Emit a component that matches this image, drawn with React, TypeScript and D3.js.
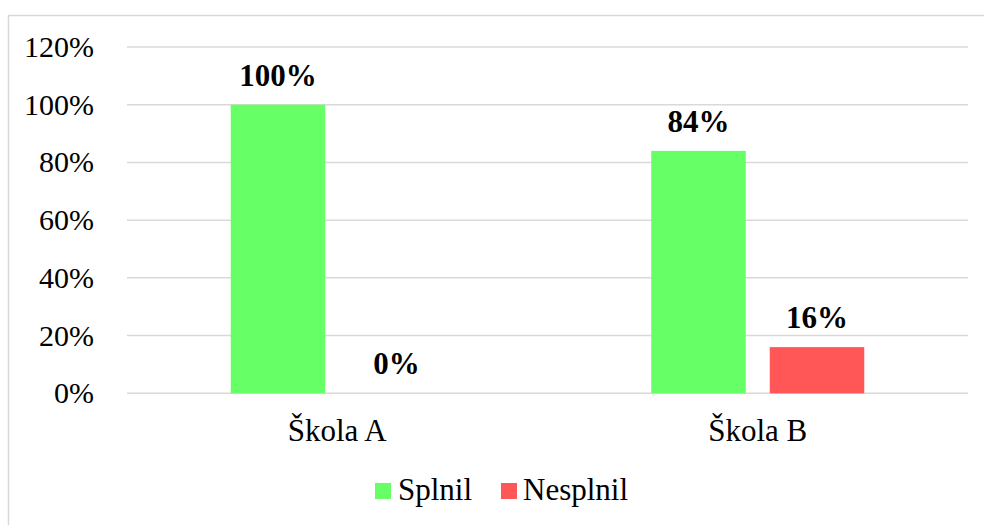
import React from "react";
import * as d3 from "d3";

const categories = ["Škola A", "Škola B"];
const seriesNames = ["Splnil", "Nesplnil"];
const splnil = [1.0, 0.84];
const nesplnil = [0.0, 0.16];
const yTicks = [0, 0.2, 0.4, 0.6, 0.8, 1.0, 1.2];
const colors = ["#66FF66", "#FF5757"];

const W = 984;
const H = 525;
const FONT = "Liberation Serif";

export default function App() {
  const x0 = d3.scaleBand<string>().domain(categories).range([127, 968]).paddingInner(0).paddingOuter(0);
  const y = d3.scaleLinear().domain([0, 1.2]).range([393.3, 47]);
  const groupW = 213;
  const x1 = d3
    .scaleBand<string>()
    .domain(seriesNames)
    .range([0, groupW])
    .paddingInner(24 / 118.5);
  const series = [splnil, nesplnil];
  const fmt = d3.format(".0%");
  const ts = { fontFamily: FONT };

  return (
    <svg
      width={W}
      height={H}
      style={{ position: "absolute", left: 0, top: 0, background: "#fff" }}
    >
      <rect x={8.5} y={15.5} width={W} height={H} fill="#fff" stroke="#d9d9d9" strokeWidth={1.5} />
      {yTicks.map((t) => (
        <g key={t}>
          <line x1={127} x2={968} y1={y(t)} y2={y(t)} stroke="#d9d9d9" strokeWidth={1.5} />
          <text x={94} y={y(t) + 10} textAnchor="end" fontSize={30} fill="#000" style={ts}>
            {fmt(t)}
          </text>
        </g>
      ))}
      {categories.map((c, ci) => {
        const gx = (x0(c) as number) + x0.bandwidth() / 2 - groupW / 2;
        return (
          <g key={c}>
            {series.map((s, si) => {
              const bx = gx + (x1(seriesNames[si]) as number);
              const v = s[ci];
              return (
                <g key={si}>
                  <rect
                    x={bx}
                    y={y(v)}
                    width={x1.bandwidth()}
                    height={y(0) - y(v)}
                    fill={colors[si]}
                  />
                  <text
                    x={bx + x1.bandwidth() / 2}
                    y={y(v) - 19}
                    textAnchor="middle"
                    fontSize={31}
                    fontWeight="bold"
                    fill="#000"
                    style={ts}
                  >
                    {fmt(v)}
                  </text>
                </g>
              );
            })}
            <text
              x={(x0(c) as number) + x0.bandwidth() / 2}
              y={441}
              textAnchor="middle"
              fontSize={31}
              fill="#000"
              style={ts}
            >
              {c}
            </text>
          </g>
        );
      })}
      <g>
        <rect x={375} y={483} width={16} height={16} fill={colors[0]} />
        <text x={398} y={500} fontSize={31} fill="#000" style={ts}>
          {seriesNames[0]}
        </text>
        <rect x={501} y={483} width={16} height={16} fill={colors[1]} />
        <text x={523} y={500} fontSize={31} fill="#000" style={ts}>
          {seriesNames[1]}
        </text>
      </g>
    </svg>
  );
}
